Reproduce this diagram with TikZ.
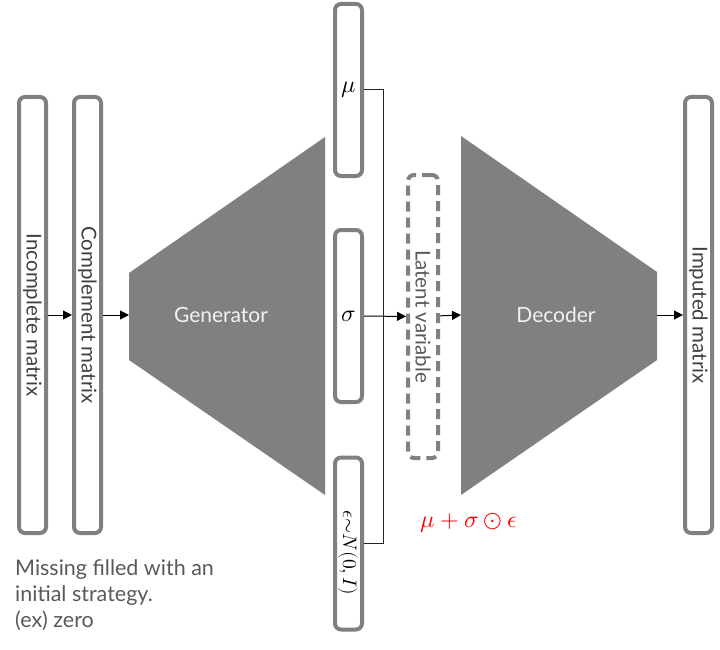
\documentclass[tikz,border=0pt]{standalone}
\usepackage{amsmath}
\usepackage{fontspec}
\usepackage{unicode-math}
\setmainfont{Lato}
\setmathfont{Latin Modern Math}
\usetikzlibrary{arrows.meta,positioning}
\definecolor{boxGray}{RGB}{128,128,128}
\definecolor{labelGray}{RGB}{64,64,64}
\definecolor{noteGray}{RGB}{89,89,89}
\tikzset{
  matrixbox/.style={
    rectangle, rounded corners=6pt, draw=boxGray, line width=4pt,
    minimum width=27pt, minimum height=436pt, inner sep=0pt,
    text=labelGray, font=\fontsize{20.5}{24}\selectfont
  },
  paramBox/.style={
    rectangle, rounded corners=6pt, draw=boxGray, line width=4pt,
    minimum width=27pt, minimum height=172pt, inner sep=0pt,
    font=\fontsize{24}{26}\selectfont
  },
  latentBox/.style={
    rectangle, rounded corners=6pt, draw=boxGray, line width=4pt,
    dash pattern=on 10pt off 6pt,
    minimum width=30pt, minimum height=283pt, inner sep=0pt,
    text=noteGray, font=\fontsize{20.5}{24}\selectfont
  },
  netLabel/.style={text=white!95!black, font=\fontsize{21}{24}\selectfont},
  flowArrow/.style={-{Triangle[length=9pt,width=9pt]}, line width=1pt, color=black}
}

\begin{document}
\begin{tikzpicture}[x=1pt, y=-1pt]
  \useasboundingbox (0,0) rectangle (720,650);
  % input matrices
  \node[matrixbox] (incomplete) at (32.5,315) {\rotatebox{-90}{Incomplete matrix}};
  \node[matrixbox, right=24pt of incomplete] (complement) {\rotatebox{-90}{Complement matrix}};
  % generator
  \fill[boxGray] (129,273) -- (325,137) -- (325,495) -- (129,360) -- cycle;
  \coordinate (genIn) at (129,315);
  \node[netLabel] (generator) at (221,315) {Generator};
  % latent parameters
  \node[paramBox] (mu) at (348.5,90) {$\mu$};
  \node[paramBox] (sigma) at (348.5,316) {$\sigma$};
  \node[paramBox] (eps) at (348.5,543.5) {};
  \node[font=\fontsize{19.5}{22}\selectfont, inner sep=0pt] (epsText) at (348.5,553)
    {\rotatebox{-90}{$\epsilon{\sim}N(0,I)$}};
  \node[latentBox] (latent) at (423,316.5) {\rotatebox{-90}{Latent variable}};
  \node[text=red, font=\fontsize{24}{26}\selectfont] (reparam) at (469,523) {$\mu+\sigma\odot\epsilon$};
  % decoder
  \fill[boxGray] (461,136) -- (657,272) -- (657,360) -- (461,495) -- cycle;
  \coordinate (decIn) at (461,315);
  \coordinate (decOut) at (657,315);
  \node[netLabel] (decoder) at (556,315) {Decoder};
  % output
  \node[matrixbox] (imputed) at (698.5,315) {\rotatebox{-90}{Imputed matrix}};
  % note
  \node[anchor=north west, align=left, inner sep=0pt, text=noteGray,
        font=\fontsize{21.5}{26}\selectfont] (note) at (15,559)
    {Missing filled with an\\initial strategy.\\(ex) zero};
  % connectors
  \draw[flowArrow] (incomplete) -- (complement);
  \draw[flowArrow] (complement) -- (genIn);
  \draw[flowArrow] (sigma) -- (latent);
  \draw[flowArrow] (latent) -- (decIn);
  \draw[flowArrow] (decOut) -- (imputed);
  \draw[line width=1pt, black!85] (mu.east) -- ++(19,0) |- (eps.east);
\end{tikzpicture}
\end{document}
